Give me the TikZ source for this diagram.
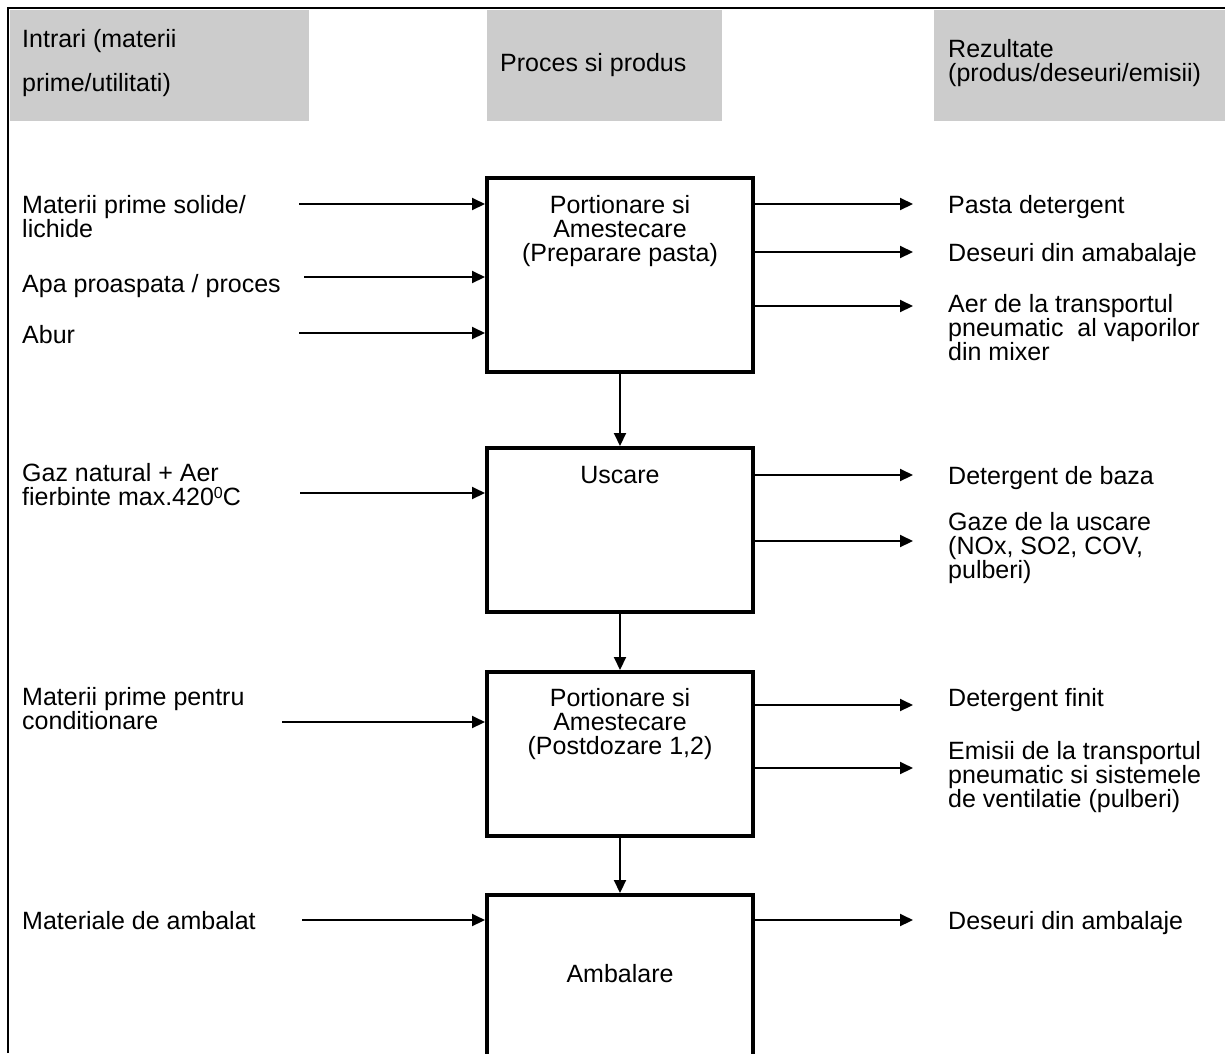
\documentclass[tikz,border=0pt]{standalone}
\usepackage{fontspec}
\setmainfont{Liberation Sans}
\usetikzlibrary{arrows.meta}
\definecolor{hdrgray}{HTML}{CCCCCC}
\newcommand{\supzero}{\raisebox{7pt}{\fontsize{16}{16}\selectfont 0}}
\begin{document}
\begin{tikzpicture}[x=1pt,y=-1pt,
  lbl/.style={anchor=base west, align=left, inner sep=0pt, font=\fontsize{25}{24}\selectfont},
  ctr/.style={anchor=base, align=center, inner sep=0pt, font=\fontsize{25}{24}\selectfont},
  procbox/.style={draw, line width=4pt, minimum width=266pt, inner sep=0pt},
  flow/.style={line width=2pt, -{Triangle[length=13pt,width=12pt]}},
  hdr/.style={fill=hdrgray, draw=none},
  frame/.style={line width=2pt}
]
\clip (0,0) rectangle (1225,1053);
% frame
\draw[frame] (8,1053) -- (8,8) -- (1225,8);
% headers
\fill[hdr] (10,10) rectangle (309,121);
\fill[hdr] (487,10) rectangle (722,121);
\fill[hdr] (934,10) rectangle (1225,121);
\node[lbl] (h1a) at (22,47) {Intrari (materii};
\node[lbl] (h1b) at (22,91) {prime/utilitati)};
\node[lbl] (h2) at (500,71) {Proces si produs};
\node[lbl] (h3) at (948,81) {Rezultate\\(produs/deseuri/emisii)};

% process boxes
\node[procbox, minimum height=194pt] (b1) at (620,275) {};
\node[procbox, minimum height=164pt] (b2) at (620,530) {};
\node[procbox, minimum height=164pt] (b3) at (620,754) {};
\node[procbox, minimum height=300pt] (b4) at (620,1045) {};

\node[ctr] (t1) at (620,261) {Portionare si\\Amestecare\\(Preparare pasta)};
\node[ctr] (t2) at (620,483) {Uscare};
\node[ctr] (t3) at (620,754) {Portionare si\\Amestecare\\(Postdozare 1,2)};
\node[ctr] (t4) at (620,982) {Ambalare};

\draw[flow] (b1.south) -- (b2.north);
\draw[flow] (b2.south) -- (b3.north);
\draw[flow] (b3.south) -- (b4.north);

% inputs
\node[lbl] (i1) at (22,237) {Materii prime solide/\\lichide};
\node[lbl] (i2) at (22,292) {Apa proaspata / proces};
\node[lbl] (i3) at (22,343) {Abur};
\node[lbl] (i4a) at (22,481) {Gaz natural + Aer};
\node[lbl] (i4b) at (22,505) {fierbinte max.420\supzero C};
\node[lbl] (i5) at (22,729) {Materii prime pentru\\conditionare};
\node[lbl] (i6) at (22,929) {Materiale de ambalat};

\coordinate (a1) at (299,204);
\coordinate (a2) at (304,277);
\coordinate (a3) at (299,333);
\coordinate (a4) at (300,493);
\coordinate (a5) at (282,722);
\coordinate (a6) at (302,920);
\draw[flow] (a1) -- (b1.west |- a1);
\draw[flow] (a2) -- (b1.west |- a2);
\draw[flow] (a3) -- (b1.west |- a3);
\draw[flow] (a4) -- (b2.west |- a4);
\draw[flow] (a5) -- (b3.west |- a5);
\draw[flow] (a6) -- (b4.west |- a6);

% outputs
\node[lbl] (r1) at (948,213) {Pasta detergent};
\node[lbl] (r2) at (948,261) {Deseuri din amabalaje};
\node[lbl] (r3) at (948,360) {Aer de la transportul\\pneumatic\ \ al vaporilor\\din mixer};
\node[lbl] (r4) at (948,484) {Detergent de baza};
\node[lbl] (r5) at (948,578) {Gaze de la uscare\\(NOx, SO2, COV,\\pulberi)};
\node[lbl] (r6) at (948,706) {Detergent finit};
\node[lbl] (r7) at (948,807) {Emisii de la transportul\\pneumatic si sistemele\\de ventilatie (pulberi)};
\node[lbl] (r8) at (948,929) {Deseuri din ambalaje};

\coordinate (o1) at (913,204);
\coordinate (o2) at (913,252);
\coordinate (o3) at (913,306);
\coordinate (o4) at (913,475);
\coordinate (o5) at (913,541);
\coordinate (o6) at (913,705);
\coordinate (o7) at (913,768);
\coordinate (o8) at (913,920);
\draw[flow] (b1.east |- o1) -- (o1);
\draw[flow] (b1.east |- o2) -- (o2);
\draw[flow] (b1.east |- o3) -- (o3);
\draw[flow] (b2.east |- o4) -- (o4);
\draw[flow] (b2.east |- o5) -- (o5);
\draw[flow] (b3.east |- o6) -- (o6);
\draw[flow] (b3.east |- o7) -- (o7);
\draw[flow] (b4.east |- o8) -- (o8);
\end{tikzpicture}
\end{document}
